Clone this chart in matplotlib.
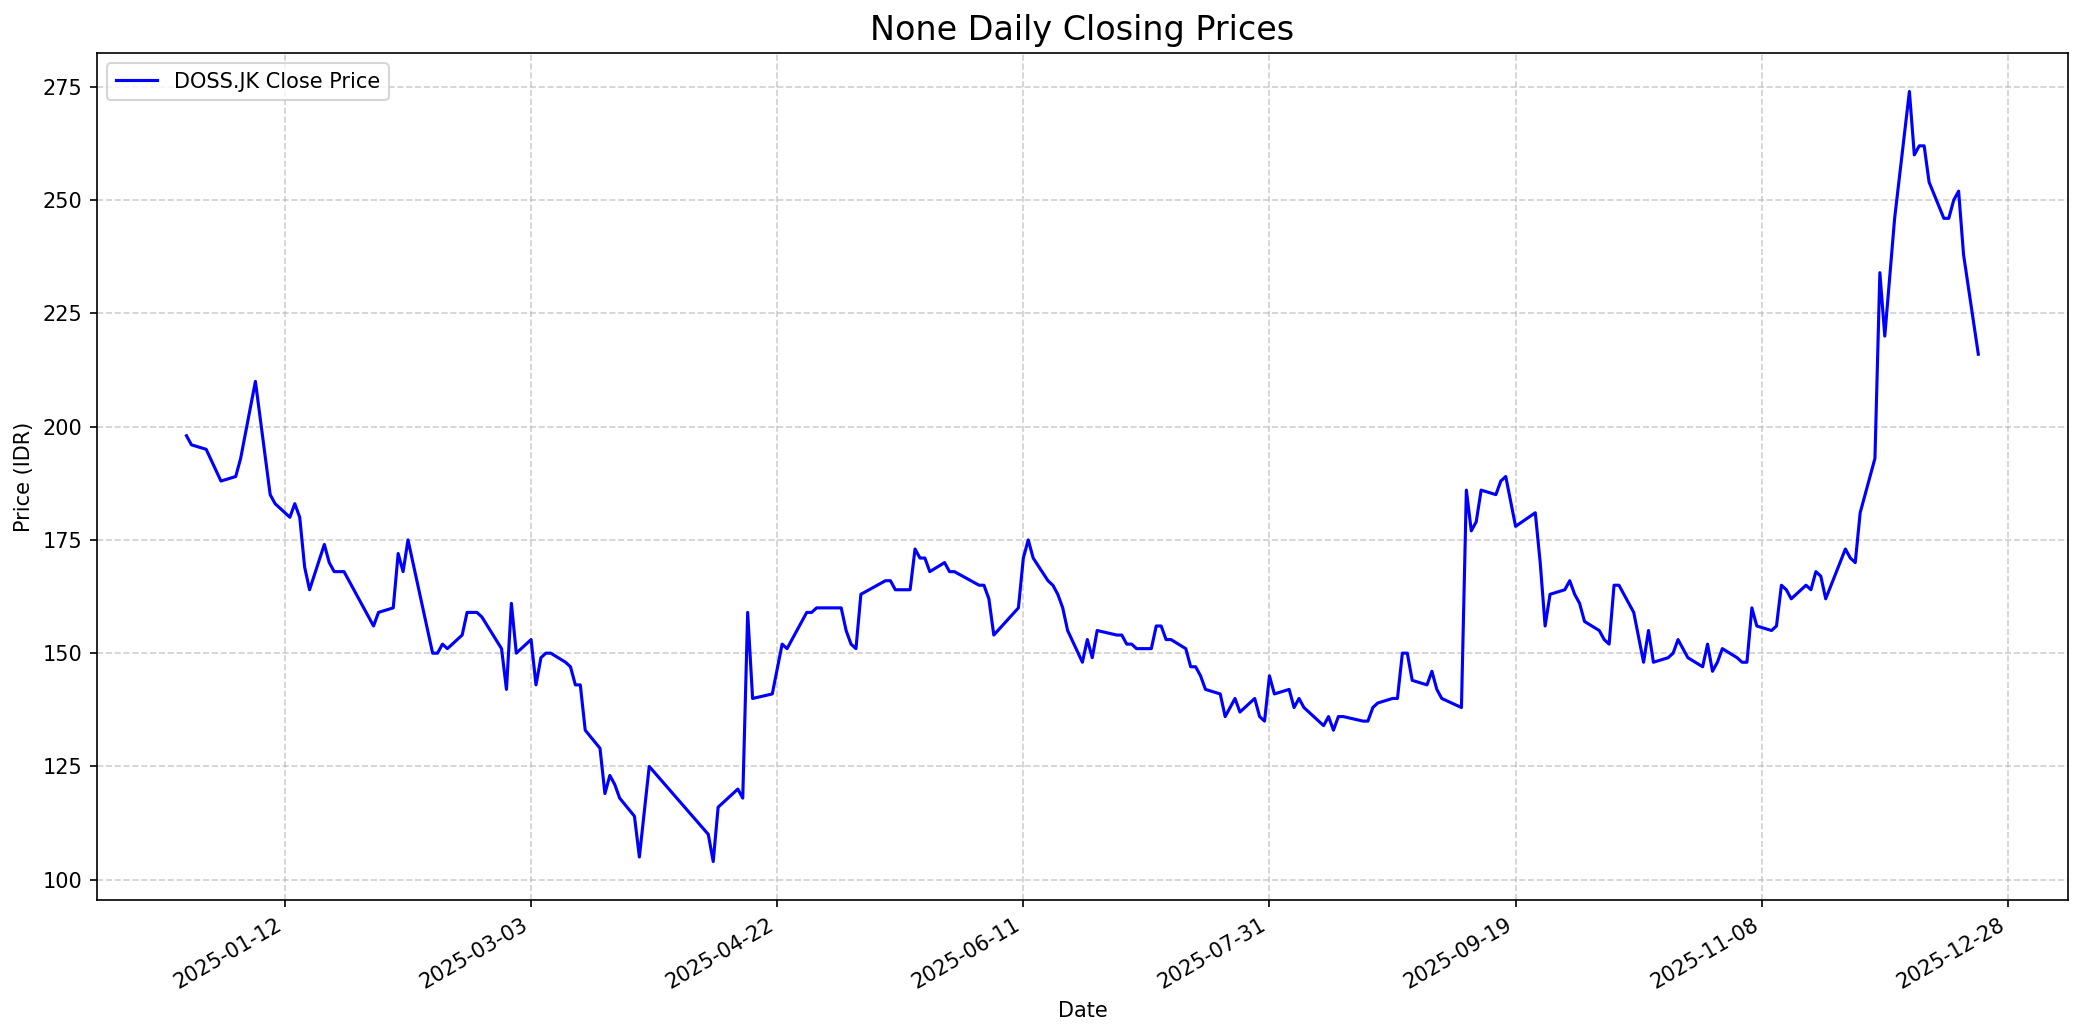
import pandas as pd
import matplotlib
matplotlib.use("Agg")
import matplotlib.pyplot as plt
import matplotlib.dates as mdates
from matplotlib.ticker import MultipleLocator

ticker = "DOSS.JK"

# closing prices
dates = [
    "2024-12-23", "2024-12-24", "2024-12-27", "2024-12-30", "2025-01-02", "2025-01-03",
    "2025-01-06", "2025-01-09", "2025-01-10", "2025-01-13", "2025-01-14", "2025-01-15",
    "2025-01-16", "2025-01-17", "2025-01-20", "2025-01-21", "2025-01-22", "2025-01-24",
    "2025-01-30", "2025-01-31", "2025-02-03", "2025-02-04", "2025-02-05", "2025-02-06",
    "2025-02-11", "2025-02-12", "2025-02-13", "2025-02-14", "2025-02-17", "2025-02-18",
    "2025-02-20", "2025-02-21", "2025-02-25", "2025-02-26", "2025-02-27", "2025-02-28",
    "2025-03-03", "2025-03-04", "2025-03-05", "2025-03-06", "2025-03-07", "2025-03-10",
    "2025-03-11", "2025-03-12", "2025-03-13", "2025-03-14", "2025-03-17", "2025-03-18",
    "2025-03-19", "2025-03-20", "2025-03-21", "2025-03-24", "2025-03-25", "2025-03-27",
    "2025-04-08", "2025-04-09", "2025-04-10", "2025-04-14", "2025-04-15", "2025-04-16",
    "2025-04-17", "2025-04-21", "2025-04-23", "2025-04-24", "2025-04-28", "2025-04-29",
    "2025-04-30", "2025-05-05", "2025-05-06", "2025-05-07", "2025-05-08", "2025-05-09",
    "2025-05-14", "2025-05-15", "2025-05-16", "2025-05-19", "2025-05-20", "2025-05-21",
    "2025-05-22", "2025-05-23", "2025-05-26", "2025-05-27", "2025-05-28", "2025-06-02",
    "2025-06-03", "2025-06-04", "2025-06-05", "2025-06-10", "2025-06-11", "2025-06-12",
    "2025-06-13", "2025-06-16", "2025-06-17", "2025-06-18", "2025-06-19", "2025-06-20",
    "2025-06-23", "2025-06-24", "2025-06-25", "2025-06-26", "2025-06-30", "2025-07-01",
    "2025-07-02", "2025-07-03", "2025-07-04", "2025-07-07", "2025-07-08", "2025-07-09",
    "2025-07-10", "2025-07-11", "2025-07-14", "2025-07-15", "2025-07-16", "2025-07-17",
    "2025-07-18", "2025-07-21", "2025-07-22", "2025-07-24", "2025-07-25", "2025-07-28",
    "2025-07-29", "2025-07-30", "2025-07-31", "2025-08-01", "2025-08-04", "2025-08-05",
    "2025-08-06", "2025-08-07", "2025-08-11", "2025-08-12", "2025-08-13", "2025-08-14",
    "2025-08-15", "2025-08-19", "2025-08-20", "2025-08-21", "2025-08-22", "2025-08-25",
    "2025-08-26", "2025-08-27", "2025-08-28", "2025-08-29", "2025-09-01", "2025-09-02",
    "2025-09-03", "2025-09-04", "2025-09-08", "2025-09-09", "2025-09-10", "2025-09-11",
    "2025-09-12", "2025-09-15", "2025-09-16", "2025-09-17", "2025-09-19", "2025-09-23",
    "2025-09-24", "2025-09-25", "2025-09-26", "2025-09-29", "2025-09-30", "2025-10-01",
    "2025-10-02", "2025-10-03", "2025-10-06", "2025-10-07", "2025-10-08", "2025-10-09",
    "2025-10-10", "2025-10-13", "2025-10-15", "2025-10-16", "2025-10-17", "2025-10-20",
    "2025-10-21", "2025-10-22", "2025-10-24", "2025-10-27", "2025-10-28", "2025-10-29",
    "2025-10-30", "2025-10-31", "2025-11-03", "2025-11-04", "2025-11-05", "2025-11-06",
    "2025-11-07", "2025-11-10", "2025-11-11", "2025-11-12", "2025-11-13", "2025-11-14",
    "2025-11-17", "2025-11-18", "2025-11-19", "2025-11-20", "2025-11-21", "2025-11-25",
    "2025-11-26", "2025-11-27", "2025-11-28", "2025-12-01", "2025-12-02", "2025-12-03",
    "2025-12-05", "2025-12-08", "2025-12-09", "2025-12-10", "2025-12-11", "2025-12-12",
    "2025-12-15", "2025-12-16", "2025-12-17", "2025-12-18", "2025-12-19", "2025-12-22",
]
close = [
    198, 196, 195, 188, 189, 193,
    210, 185, 183, 180, 183, 180,
    169, 164, 174, 170, 168, 168,
    156, 159, 160, 172, 168, 175,
    150, 150, 152, 151, 154, 159,
    159, 158, 151, 142, 161, 150,
    153, 143, 149, 150, 150, 148,
    147, 143, 143, 133, 129, 119,
    123, 121, 118, 114, 105, 125,
    110, 104, 116, 120, 118, 159,
    140, 141, 152, 151, 159, 159,
    160, 160, 155, 152, 151, 163,
    166, 166, 164, 164, 173, 171,
    171, 168, 170, 168, 168, 165,
    165, 162, 154, 160, 171, 175,
    171, 166, 165, 163, 160, 155,
    148, 153, 149, 155, 154, 154,
    152, 152, 151, 151, 156, 156,
    153, 153, 151, 147, 147, 145,
    142, 141, 136, 140, 137, 140,
    136, 135, 145, 141, 142, 138,
    140, 138, 134, 136, 133, 136,
    136, 135, 135, 138, 139, 140,
    140, 150, 150, 144, 143, 146,
    142, 140, 138, 186, 177, 179,
    186, 185, 188, 189, 178, 181,
    170, 156, 163, 164, 166, 163,
    161, 157, 155, 153, 152, 165,
    165, 159, 148, 155, 148, 149,
    150, 153, 149, 147, 152, 146,
    148, 151, 149, 148, 148, 160,
    156, 155, 156, 165, 164, 162,
    165, 164, 168, 167, 162, 173,
    171, 170, 181, 193, 234, 220,
    246, 274, 260, 262, 262, 254,
    246, 246, 250, 252, 238, 216,
]

df = pd.DataFrame({"Date": pd.to_datetime(dates), "Close": close})

fig, ax = plt.subplots(figsize=(13.893, 6.9), dpi=150)
ax.plot(df["Date"], df["Close"], color="blue", linewidth=1.5,
        label=f"{ticker} Close Price")

ax.xaxis.set_major_locator(MultipleLocator(50))
ax.xaxis.set_major_formatter(mdates.DateFormatter("%Y-%m-%d"))

ax.set_title("None Daily Closing Prices", fontsize=16)
ax.set_xlabel("Date")
ax.set_ylabel("Price (IDR)")
ax.grid(True, linestyle="--", alpha=0.6)
ax.legend(loc="upper left")
fig.autofmt_xdate()
fig.subplots_adjust(left=0.0465, right=0.9923, top=0.9488, bottom=0.1304)
plt.savefig("out.png")
